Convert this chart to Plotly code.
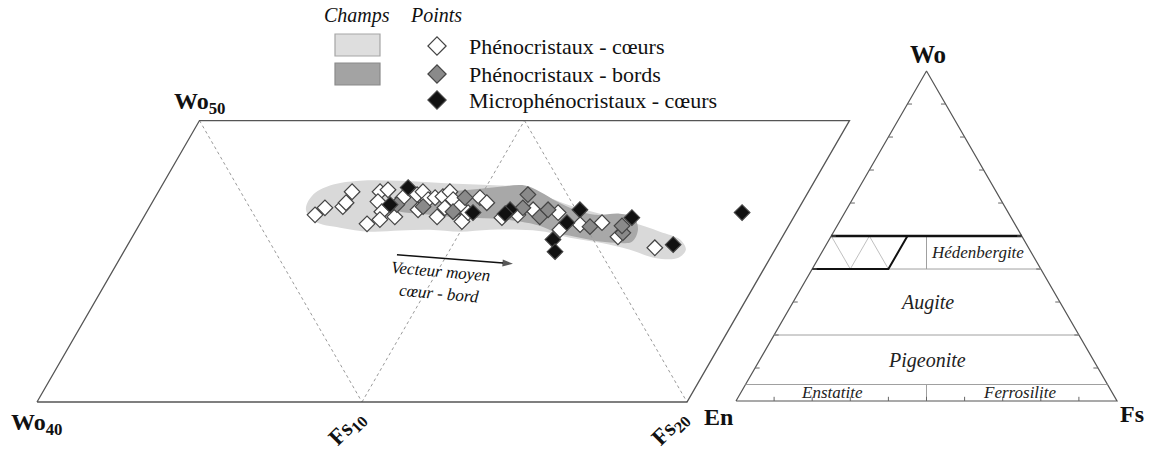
import math
import plotly.graph_objects as go

# ---------------- data: pyroxene compositions (mol %) ----------------
# Phénocristaux - cœurs (white diamonds)
CORE_WO = [46.65, 46.90, 46.94, 47.08, 47.47, 46.33, 47.47, 47.54, 47.12, 46.76,
           46.48, 46.58, 47.26, 47.37, 47.47, 47.19, 46.83, 47.26, 46.58, 47.30,
           47.47, 47.19, 46.90, 46.94, 46.41, 46.73, 47.26, 47.08, 46.55, 46.65,
           46.83, 46.73, 46.12, 46.30, 46.37, 45.87, 45.48]
CORE_FS = [5.23, 5.41, 5.94, 5.97, 5.96, 6.99, 6.82, 7.03, 6.93, 7.23,
           7.31, 7.72, 7.63, 8.01, 8.14, 8.44, 8.31, 8.62, 9.02, 8.84,
           8.97, 9.21, 9.10, 9.54, 9.87, 9.90, 10.00, 10.30, 11.03, 11.47,
           11.85, 12.67, 13.03, 13.56, 14.20, 14.94, 16.27]
# Phénocristaux - bords (grey diamonds)
RIM_WO = [47.01, 46.94, 46.76, 47.26, 46.90, 47.37, 46.58, 46.83, 46.23, 46.01, 46.26]
RIM_FS = [7.57, 8.41, 9.42, 9.54, 11.50, 11.42, 12.18, 12.31, 13.90, 15.02, 14.87]
# Microphénocristaux - cœurs (black diamonds)
MICRO_WO = [47.62, 47.01, 46.73, 46.83, 46.69, 46.37, 45.77, 45.34, 46.83, 46.55, 45.59, 46.73]
MICRO_FS = [7.61, 7.36, 10.05, 11.14, 11.06, 13.12, 12.99, 13.27, 13.29, 15.03, 16.78, 18.33]

# Champs (envelopes)
FIELD_CORE_WO = [46.83, 47.33, 47.69, 47.86, 47.86, 47.76, 47.69, 47.65, 47.33, 46.98,
                 46.69, 46.41, 46.05, 45.77, 45.41, 45.12, 45.12, 45.41, 45.66, 45.84,
                 46.05, 46.12, 46.12, 46.05, 46.12, 46.09, 46.05, 46.19, 46.41]
FIELD_CORE_FS = [4.86, 4.80, 5.17, 6.01, 7.24, 8.83, 10.40, 11.19, 11.97, 12.91,
                 13.98, 15.04, 16.14, 16.90, 17.26, 17.16, 16.45, 15.54, 14.50, 13.48,
                 12.61, 11.80, 10.88, 9.99, 9.03, 8.13, 7.22, 6.23, 5.35]
FIELD_RIM_WO = [46.90, 47.22, 47.44, 47.54, 47.65, 47.69, 47.47, 47.12, 46.83, 46.65,
                46.69, 46.55, 46.12, 45.69, 45.66, 45.73, 45.87, 46.01, 46.26, 46.41,
                46.51, 46.55, 46.58, 46.69, 46.76]
FIELD_RIM_FS = [7.32, 7.56, 8.46, 9.55, 10.42, 11.17, 11.74, 12.44, 13.14, 13.84,
                14.59, 15.10, 15.43, 15.46, 14.96, 14.30, 13.62, 12.99, 12.34, 11.66,
                10.99, 10.05, 9.42, 8.44, 7.79]

# Vecteur moyen cœur - bord (start, end)
VECTOR_WO = [45.23, 44.91]
VECTOR_FS = [8.46, 12.19]

# Zoomed window of the quadrilateral
ZOOM_WO = [40, 50]
ZOOM_FS = [0, 10, 20]

# Pyroxene quadrilateral field boundaries (Wo %)
QUAD_THIN_WO = [5, 20, 40]
QUAD_THICK_WO = 50
TICKS = [10, 20, 30, 40, 50, 60, 70, 80, 90]

QUAD_LABELS = ["Hédenbergite", "Augite", "Pigeonite", "Enstatite", "Ferrosilite"]
QUAD_LABEL_WO = [44.9, 30.0, 12.4, 2.7, 2.7]
QUAD_LABEL_FS = [41.0, 35.0, 43.9, 23.8, 73.2]

LEGEND_TITLES = ["Champs", "Points"]
POINT_NAMES = ["Phénocristaux - cœurs", "Phénocristaux - bords", "Microphénocristaux - cœurs"]

# ---------------- helpers ----------------
S3 = math.sqrt(3) / 2
FONT = "Liberation Serif, Times New Roman, serif"
FIG_W, FIG_H = 1149, 453


def proj(wo, fs):
    """ternary (Wo, Fs) -> cartesian (X, Y) with En at origin, Fs at X=100"""
    return [f + w / 2 for w, f in zip(wo, fs)], [w * S3 for w in wo]


def segs(pairs):
    xs, ys = [], []
    for a, b in pairs:
        x, y = proj([a[0], b[0]], [a[1], b[1]])
        xs += x + [None]
        ys += y + [None]
    return xs, ys


# axes placement (pixel anchors of the two diagrams)
MAIN_SC = 32.5
MAIN_PX = (37, 402)
MX0, MY0 = 20.0, 40 * S3
TRI_SC = 3.81
TRI_PX = (736, 401)

fig = go.Figure()

# ---------------- main (zoomed) diagram ----------------
fx, fy = proj(FIELD_CORE_WO + FIELD_CORE_WO[:1], FIELD_CORE_FS + FIELD_CORE_FS[:1])
fig.add_trace(go.Scatter(x=fx, y=fy, mode="lines", fill="toself", fillcolor="#d9d9d9",
                         line=dict(color="#d9d9d9", width=0, shape="spline", smoothing=1.0),
                         hoverinfo="skip", showlegend=False))
fx, fy = proj(FIELD_RIM_WO + FIELD_RIM_WO[:1], FIELD_RIM_FS + FIELD_RIM_FS[:1])
fig.add_trace(go.Scatter(x=fx, y=fy, mode="lines", fill="toself", fillcolor="#a8a8a8",
                         line=dict(color="#a8a8a8", width=0, shape="spline", smoothing=1.0),
                         hoverinfo="skip", showlegend=False))

lo, hi = ZOOM_WO
f0, f1, f2 = ZOOM_FS
gx, gy = segs([((hi, f0), (lo, f1)), ((lo, f1), (hi, f1)), ((hi, f1), (lo, f2))])
fig.add_trace(go.Scatter(x=gx, y=gy, mode="lines", line=dict(color="#9a9a9a", width=1, dash="3px,3px"),
                         hoverinfo="skip", showlegend=False))
bx, by = proj([lo, lo, hi, hi, lo], [f0, f2, f2, f0, f0])
fig.add_trace(go.Scatter(x=bx, y=by, mode="lines", line=dict(color="#555555", width=1.3),
                         hoverinfo="skip", showlegend=False))

for wo, fs, fill, name in [(CORE_WO, CORE_FS, "#ffffff", POINT_NAMES[0]),
                           (RIM_WO, RIM_FS, "#8a8a8a", POINT_NAMES[1]),
                           (MICRO_WO, MICRO_FS, "#111111", POINT_NAMES[2])]:
    px_, py_ = proj(wo, fs)
    fig.add_trace(go.Scatter(x=px_, y=py_, mode="markers", name=name, showlegend=False,
                             hoverinfo="skip",
                             marker=dict(symbol="diamond", size=12, color=fill,
                                         line=dict(color="#444444", width=1.2))))

# mean core -> rim vector (line + arrow head)
vx, vy = proj(VECTOR_WO, VECTOR_FS)
fig.add_trace(go.Scatter(x=vx, y=vy, mode="lines+markers", hoverinfo="skip", showlegend=False,
                         line=dict(color="#111111", width=1.4),
                         marker=dict(symbol="arrow", size=[0, 11], angleref="previous",
                                     color="#111111", line=dict(width=0))))

# ---------------- pyroxene quadrilateral (right) ----------------
tx, ty = proj([0, 0, 100, 0], [0, 100, 0, 0])
fig.add_trace(go.Scatter(x=tx, y=ty, xaxis="x2", yaxis="y2", mode="lines",
                         line=dict(color="#555555", width=1.2), hoverinfo="skip", showlegend=False))
lx, ly = segs([((w, 0), (w, 100 - w)) for w in QUAD_THIN_WO] +
              [((40, 30), (50, 25)), ((0, 50), (5, 47.5))])
fig.add_trace(go.Scatter(x=lx, y=ly, xaxis="x2", yaxis="y2", mode="lines",
                         line=dict(color="#a0a0a0", width=1), hoverinfo="skip", showlegend=False))
zx, zy = segs([((hi, f0), (lo, f1)), ((lo, f1), (hi, f1)), ((hi, f1), (lo, f2))])
fig.add_trace(go.Scatter(x=zx, y=zy, xaxis="x2", yaxis="y2", mode="lines",
                         line=dict(color="#b0b0b0", width=0.8), hoverinfo="skip", showlegend=False))
kx, ky = segs([((QUAD_THICK_WO, 0), (QUAD_THICK_WO, 100 - QUAD_THICK_WO))])
fig.add_trace(go.Scatter(x=kx, y=ky, xaxis="x2", yaxis="y2", mode="lines",
                         line=dict(color="#111111", width=2.6), hoverinfo="skip", showlegend=False))
ix, iy = proj([hi, lo, lo], [f2, f2, f0])
fig.add_trace(go.Scatter(x=ix, y=iy, xaxis="x2", yaxis="y2", mode="lines",
                         line=dict(color="#111111", width=2), hoverinfo="skip", showlegend=False))
# ticks
tkx, tky = [], []
for k in TICKS:
    tkx += [k, k, None]; tky += [0, 1.1, None]
    x0, y0 = k / 2, k * S3
    tkx += [x0, x0 + 1.2, None]; tky += [y0, y0, None]
    x1 = 100 - k / 2
    tkx += [x1, x1 - 1.2, None]; tky += [y0, y0, None]
fig.add_trace(go.Scatter(x=tkx, y=tky, xaxis="x2", yaxis="y2", mode="lines",
                         line=dict(color="#666666", width=1), hoverinfo="skip", showlegend=False))

qx, qy = proj(QUAD_LABEL_WO, QUAD_LABEL_FS)
qsizes = [17, 20, 20, 17, 17]
for lab, x, y, s in zip(QUAD_LABELS, qx, qy, qsizes):
    fig.add_annotation(x=x, y=y, xref="x2", yref="y2", text=f"<i>{lab}</i>", showarrow=False,
                       font=dict(family=FONT, size=s, color="#222222"))

# ---------------- labels (pixel frame) ----------------
def ann(x, y, text, size, xanchor="center", yanchor="middle", angle=0, color="#111111"):
    fig.add_annotation(x=x, y=y, xref="x3", yref="y3", text=text, showarrow=False,
                       xanchor=xanchor, yanchor=yanchor, textangle=angle,
                       font=dict(family=FONT, size=size, color=color))

ann(172, 103, "<b>Wo<sub>50</sub></b>", 24, xanchor="left")
ann(9, 424, "<b>Wo<sub>40</sub></b>", 24, xanchor="left")
ann(347, 429, "<b>Fs<sub>10</sub></b>", 23, angle=-45)
ann(670, 429, "<b>Fs<sub>20</sub></b>", 23, angle=-45)
ann(718, 417, "<b>En</b>", 24)
ann(928, 54, "<b>Wo</b>", 25)
ann(1132, 414, "<b>Fs</b>", 24)
ann(440, 282, "<i>Vecteur moyen<br>cœur - bord</i>", 17, angle=5)

# legend
ann(357, 15, f"<i>{LEGEND_TITLES[0]}</i>", 20)
ann(436, 15, f"<i>{LEGEND_TITLES[1]}</i>", 20)
fig.add_shape(type="rect", xref="x3", yref="y3", x0=335, x1=380, y0=34, y1=56,
              fillcolor="#dedede", line=dict(color="#a5a5a5", width=1.2))
fig.add_shape(type="rect", xref="x3", yref="y3", x0=335, x1=380, y0=63, y1=85,
              fillcolor="#a3a3a3", line=dict(color="#8a8a8a", width=1.2))
leg_y = [46, 74, 100]
fig.add_trace(go.Scatter(x=[437] * 3, y=leg_y, xaxis="x3", yaxis="y3", mode="markers",
                         marker=dict(symbol="diamond", size=14, color=["#ffffff", "#8a8a8a", "#111111"],
                                     line=dict(color="#444444", width=1.2)),
                         hoverinfo="skip", showlegend=False))
for name, y in zip(POINT_NAMES, leg_y):
    ann(467, y, name, 22, xanchor="left")

ax_common = dict(visible=False, showgrid=False, zeroline=False, fixedrange=True, domain=[0, 1])
fig.update_layout(
    width=FIG_W, height=FIG_H, margin=dict(l=0, r=0, t=0, b=0, pad=0),
    paper_bgcolor="white", plot_bgcolor="white", showlegend=False,
    xaxis=dict(ax_common, range=[MX0 - MAIN_PX[0] / MAIN_SC, MX0 + (FIG_W - MAIN_PX[0]) / MAIN_SC]),
    yaxis=dict(ax_common, range=[MY0 - (FIG_H - MAIN_PX[1]) / MAIN_SC, MY0 + MAIN_PX[1] / MAIN_SC]),
    xaxis2=dict(ax_common, overlaying="x", anchor="y2",
                range=[-TRI_PX[0] / TRI_SC, (FIG_W - TRI_PX[0]) / TRI_SC]),
    yaxis2=dict(ax_common, overlaying="y", anchor="x2",
                range=[-(FIG_H - TRI_PX[1]) / TRI_SC, TRI_PX[1] / TRI_SC]),
    xaxis3=dict(ax_common, overlaying="x", anchor="y3", range=[0, FIG_W]),
    yaxis3=dict(ax_common, overlaying="y", anchor="x3", range=[FIG_H, 0]),
)

fig.write_html("out.html", config={"displayModeBar": False},
               post_script="document.body.style.margin='0';document.body.style.overflow='hidden';")
